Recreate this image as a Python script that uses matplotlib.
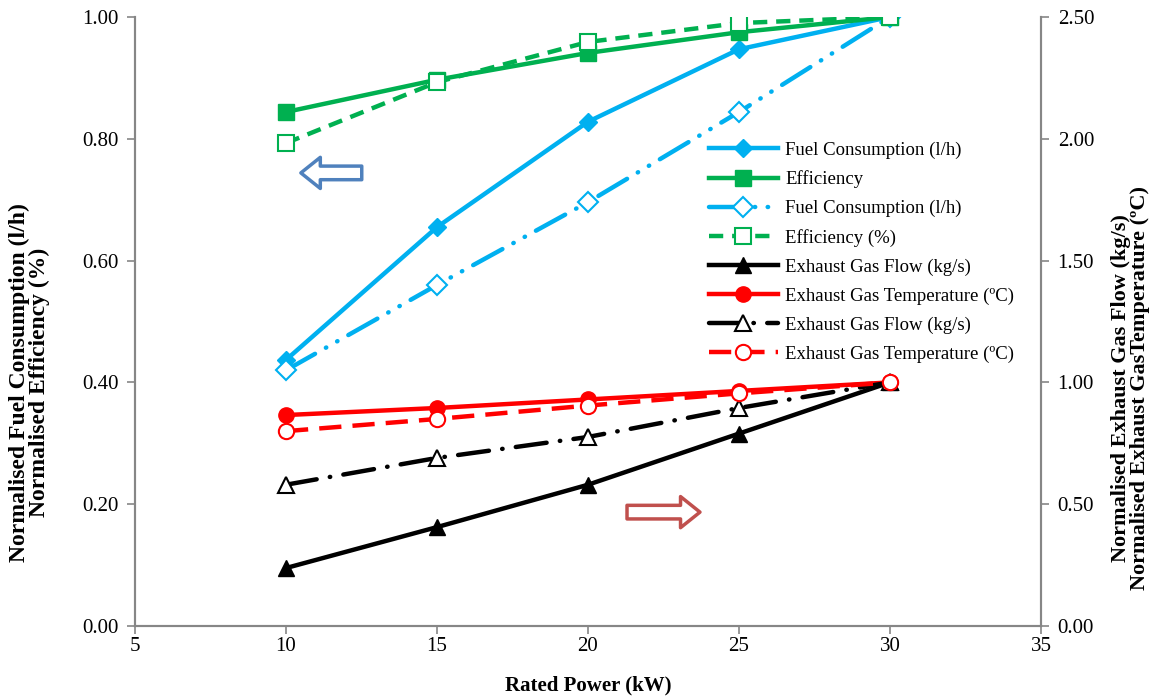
import matplotlib.pyplot as plt
from matplotlib.patches import FancyArrowPatch

plt.rcParams['font.family'] = ['Liberation Serif', 'DejaVu Serif']

# rated power (kW)
power = [10, 15, 20, 25, 30]

# left axis: normalised values
fuel_a = [0.437, 0.655, 0.828, 0.947, 1.00]
eff_a = [0.844, 0.897, 0.941, 0.975, 1.00]
fuel_b = [0.420, 0.560, 0.696, 0.844, 1.00]
eff_b = [0.793, 0.893, 0.959, 0.990, 1.00]

# right axis: normalised exhaust values
flow_a = [0.238, 0.406, 0.580, 0.790, 1.00]
temp_a = [0.866, 0.895, 0.930, 0.965, 1.00]
flow_b = [0.580, 0.690, 0.776, 0.895, 1.00]
temp_b = [0.800, 0.850, 0.905, 0.955, 1.00]

BLUE = '#00B0F0'
GREEN = '#00B050'
RED = '#FF0000'
GREY = '#868686'

fig = plt.figure(figsize=(11.56, 6.99), dpi=100)
ax1 = fig.add_axes([0.1168, 0.1044, 0.7837, 0.8713])
ax2 = ax1.twinx()

lw = 3.2
h1, = ax1.plot(power, fuel_a, color=BLUE, lw=lw, marker='D', ms=9,
               label='Fuel Consumption (l/h)')
h2, = ax1.plot(power, eff_a, color=GREEN, lw=lw, marker='s', ms=11,
               label='Efficiency')
h3, = ax1.plot(power, fuel_b, color=BLUE, lw=lw, marker='D', ms=10,
               mfc='white', mew=1.5, dashes=(7.5, 2.8, 0.1, 2.8, 0.1, 2.8),
               dash_capstyle='round', label='Fuel Consumption (l/h)')
h4, = ax1.plot(power, eff_b, color=GREEN, lw=lw, marker='s', ms=11,
               mfc='white', mew=1.5, dashes=(3.2, 2.0),
               label='Efficiency (%)')

h5, = ax2.plot(power, flow_a, color='black', lw=lw, marker='^', ms=11,
               label='Exhaust Gas Flow (kg/s)')
h6, = ax2.plot(power, temp_a, color=RED, lw=lw, marker='o', ms=11,
               label='Exhaust Gas Temperature (ºC)')
h7, = ax2.plot(power, flow_b, color='black', lw=lw, marker='^', ms=11,
               mfc='white', mew=1.5, dashes=(7, 3, 0.1, 3),
               dash_capstyle='round', label='Exhaust Gas Flow (kg/s)')
h8, = ax2.plot(power, temp_b, color=RED, lw=lw, marker='o', ms=11,
               mfc='white', mew=1.5, dashes=(5, 2.5),
               label='Exhaust Gas Temperature (ºC)')

ax1.set_xlim(5, 35)
ax1.set_ylim(0, 1.0)
ax2.set_ylim(0, 2.5)
ax1.set_xticks(range(5, 36, 5))
ax1.set_yticks([i * 0.2 for i in range(6)])
ax2.set_yticks([i * 0.5 for i in range(6)])
ax1.yaxis.set_major_formatter('{x:.2f}')
ax2.yaxis.set_major_formatter('{x:.2f}')

for ax in (ax1, ax2):
    ax.spines['top'].set_visible(False)
    for s in ('left', 'right', 'bottom'):
        ax.spines[s].set_color(GREY)
        ax.spines[s].set_linewidth(1.5)
    ax.tick_params(direction='out', length=6, width=1.2, color=GREY,
                   labelsize=15, pad=6)
ax1.tick_params(axis='x', pad=2)

ax1.set_xlabel('Rated Power (kW)', fontsize=15, fontweight='bold', labelpad=14)
ax1.set_ylabel('Normalised Fuel Consumption (l/h)\nNormalised Efficiency (%)',
               fontsize=17, fontweight='bold', linespacing=0.9)
ax1.yaxis.set_label_coords(-0.094, 0.40)
ax2.set_ylabel('Normalised Exhaust Gas Flow (kg/s)\n'
               'Normalised Exhaust GasTemperature (ºC)',
               fontsize=16, fontweight='bold', linespacing=0.95)
ax2.yaxis.set_label_coords(1.077, 0.39)

# hollow arrows pointing to each axis
ax1.add_patch(FancyArrowPatch((12.6, 0.744), (10.4, 0.744),
                              arrowstyle='simple,head_width=1.6,head_length=1.0,tail_width=0.7',
                              mutation_scale=14, fc='white', ec='#4F81BD', lw=2.5,
                              zorder=5))
ax1.add_patch(FancyArrowPatch((21.2, 0.187), (23.8, 0.187),
                              arrowstyle='simple,head_width=1.6,head_length=1.0,tail_width=0.7',
                              mutation_scale=14, fc='white', ec='#C0504D', lw=2.5,
                              zorder=5))

ax2.legend(handles=[h1, h2, h3, h4, h5, h6, h7, h8], loc='upper left',
           bbox_to_anchor=(0.605, 0.811), bbox_transform=fig.transFigure,
           frameon=False, fontsize=13.5, numpoints=1, handlelength=3.7,
           handletextpad=0.38, labelspacing=0.62, borderpad=0)

fig.savefig('out.png', dpi=100)
